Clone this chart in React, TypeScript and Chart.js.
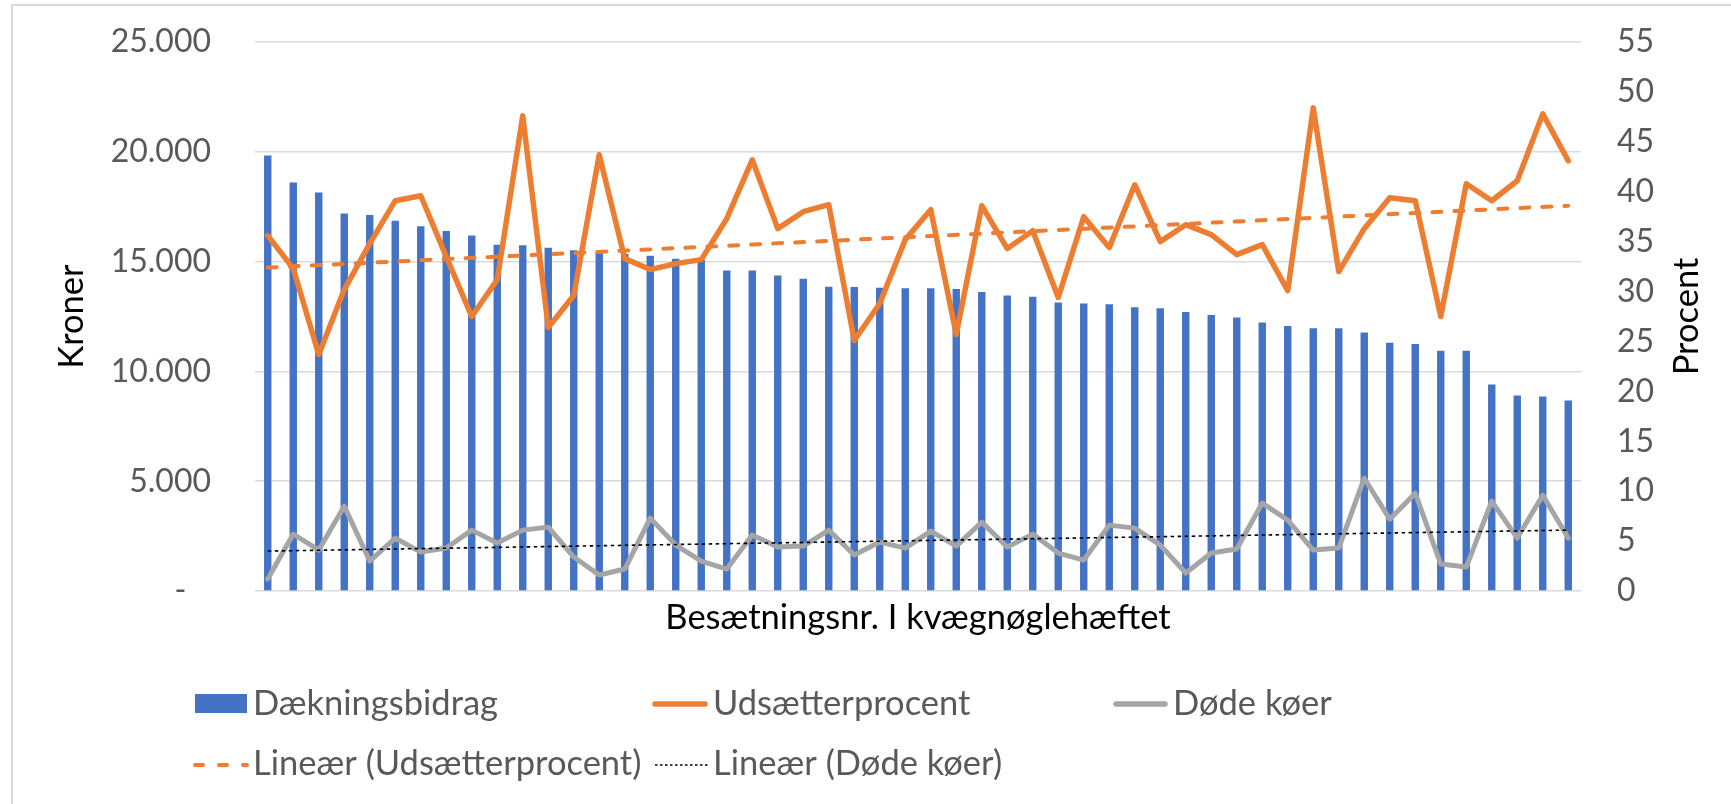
import React, { useEffect, useRef } from 'react';
import { Chart, registerables } from 'chart.js';

Chart.register(...registerables);

// ---------- Data ----------
const herdNumbers = [
  '1', '2', '3', '4', '5', '6', '7', '8', '9', '10',
  '11', '12', '13', '14', '15', '16', '17', '18', '19', '20',
  '21', '22', '23', '24', '25', '26', '27', '28', '29', '30',
  '31', '32', '33', '34', '35', '36', '37', '38', '39', '40',
  '41', '42', '43', '44', '45', '46', '47', '48', '49', '50',
  '51', '52',
];

// Dækningsbidrag (kroner, left axis)
const daekningsbidrag = [
  19830, 18600, 18150, 17190, 17120, 16860, 16610, 16390, 16190, 15770,
  15740, 15630, 15520, 15440, 15350, 15270, 15130, 15080, 14590, 14590,
  14370, 14220, 13860, 13840, 13810, 13790, 13790, 13750, 13620, 13460,
  13400, 13140, 13090, 13060, 12920, 12880, 12700, 12570, 12460, 12230,
  12070, 11970, 11960, 11770, 11300, 11250, 10940, 10940, 9400, 8900,
  8860, 8680,
];

// Udsætterprocent (procent, right axis)
const udsaetterprocent = [
  35.6, 32.3, 23.7, 30.2, 34.8, 39.1, 39.6, 33.5, 27.5, 31.2,
  47.6, 26.4, 29.6, 43.7, 33.3, 32.2, 32.8, 33.2, 37.3, 43.2,
  36.3, 38.0, 38.7, 25.1, 28.8, 35.2, 38.2, 25.7, 38.6, 34.3,
  36.1, 29.4, 37.5, 34.4, 40.7, 35.0, 36.7, 35.7, 33.7, 34.7,
  30.1, 48.4, 32.0, 36.3, 39.4, 39.1, 27.5, 40.8, 39.1, 41.1,
  47.8, 43.1,
];

// Døde køer (procent, right axis)
const doedeKoeer = [
  1.2, 5.7, 4.1, 8.5, 3.0, 5.3, 3.9, 4.3, 6.1, 4.8,
  6.1, 6.4, 3.4, 1.6, 2.2, 7.3, 4.6, 3.0, 2.2, 5.6,
  4.4, 4.5, 6.1, 3.6, 4.9, 4.3, 6.0, 4.5, 6.9, 4.4,
  5.7, 3.8, 3.1, 6.6, 6.3, 4.6, 1.8, 3.8, 4.2, 8.8,
  7.1, 4.1, 4.3, 11.3, 7.2, 9.8, 2.7, 2.4, 9.0, 5.3,
  9.6, 5.3,
];

// Linear trendlines: values at first and last herd
const udsaetterTrendEnds = [32.4, 38.6];
const doedeTrendEnds = [4.0, 6.1];

// Axis ranges / tick steps
const kronerRange = [0, 25000];
const kronerStep = 5000;
const procentRange = [0, 55];
const procentStep = 5;

const xTitle = 'Besætningsnr. I kvægnøglehæftet';
const leftTitle = 'Kroner';
const rightTitle = 'Procent';
const legendLabels = [
  'Dækningsbidrag',
  'Udsætterprocent',
  'Døde køer',
  'Lineær (Udsætterprocent)',
  'Lineær (Døde køer)',
];

// ---------- Styles ----------
const W = 1731;
const H = 804;
const FONT = 'Lato';
const BLUE = '#4472C4';
const ORANGE = '#ED7D31';
const GRAY = '#A5A5A5';
const TEXT_GRAY = '#595959';
const TICK_SIZE = 32;
const LEGEND_SIZE = 34.5;
const TITLE_SIZE = 34.5;

function formatKroner(v: number): string {
  if (v === 0) return '-   ';
  return String(v).replace(/\B(?=(\d{3})+(?!\d))/g, '.');
}

const overlayPlugin = {
  id: 'overlayTexts',
  afterDraw(chart: any) {
    const { ctx, chartArea } = chart;
    const cy = (chartArea.top + chartArea.bottom) / 2;
    const cx = (chartArea.left + chartArea.right) / 2;
    ctx.save();
    ctx.fillStyle = '#000';
    ctx.font = `${TITLE_SIZE}px ${FONT}`;
    ctx.textBaseline = 'alphabetic';
    ctx.textAlign = 'center';
    // axis titles
    ctx.save();
    ctx.translate(83, cy);
    ctx.rotate(-Math.PI / 2);
    ctx.fillText(leftTitle, 0, 0);
    ctx.restore();
    ctx.save();
    ctx.translate(1698, cy);
    ctx.rotate(-Math.PI / 2);
    ctx.fillText(rightTitle, 0, 0);
    ctx.restore();
    ctx.fillText(xTitle, cx, 629);

    // legend symbols
    ctx.fillStyle = BLUE;
    ctx.fillRect(195, 694, 52, 19);

    ctx.lineCap = 'round';
    ctx.lineWidth = 5.5;
    ctx.strokeStyle = ORANGE;
    ctx.beginPath();
    ctx.moveTo(655, 704);
    ctx.lineTo(705, 704);
    ctx.stroke();

    ctx.strokeStyle = GRAY;
    ctx.beginPath();
    ctx.moveTo(1116, 704);
    ctx.lineTo(1165, 704);
    ctx.stroke();

    ctx.strokeStyle = ORANGE;
    ctx.lineWidth = 4;
    ctx.setLineDash([8, 16]);
    ctx.beginPath();
    ctx.moveTo(195, 765);
    ctx.lineTo(247, 765);
    ctx.stroke();

    ctx.lineCap = 'butt';
    ctx.strokeStyle = '#000';
    ctx.lineWidth = 1.5;
    ctx.setLineDash([2.5, 2.5]);
    ctx.beginPath();
    ctx.moveTo(655, 765);
    ctx.lineTo(708, 765);
    ctx.stroke();
    ctx.setLineDash([]);

    // legend texts
    ctx.fillStyle = TEXT_GRAY;
    ctx.textAlign = 'left';
    ctx.font = `${LEGEND_SIZE}px ${FONT}`;
    ctx.fillText(legendLabels[0], 253, 715);
    ctx.fillText(legendLabels[1], 713, 715);
    ctx.fillText(legendLabels[2], 1173, 715);
    ctx.fillText(legendLabels[3], 253, 775);
    ctx.fillText(legendLabels[4], 713, 775);
    ctx.restore();
  },
};

function fixScale(width: number) {
  return (s: any) => {
    s.width = width;
    s.paddingTop = 10;
    s.paddingBottom = 10;
  };
}

export default function App() {
  const canvasRef = useRef<HTMLCanvasElement | null>(null);

  useEffect(() => {
    const canvas = canvasRef.current;
    if (!canvas) return;
    const last = herdNumbers.length - 1;
    const chart = new Chart(canvas, {
      type: 'bar',
      data: {
        labels: herdNumbers,
        datasets: [
          {
            type: 'line',
            label: legendLabels[3],
            data: [
              { x: herdNumbers[0], y: udsaetterTrendEnds[0] },
              { x: herdNumbers[last], y: udsaetterTrendEnds[1] },
            ],
            yAxisID: 'yR',
            borderColor: ORANGE,
            borderWidth: 4,
            borderDash: [9, 13],
            borderCapStyle: 'round',
            pointRadius: 0,
            order: 0,
          } as any,
          {
            type: 'line',
            label: legendLabels[4],
            data: [
              { x: herdNumbers[0], y: doedeTrendEnds[0] },
              { x: herdNumbers[last], y: doedeTrendEnds[1] },
            ],
            yAxisID: 'yR',
            borderColor: '#000',
            borderWidth: 1.6,
            borderDash: [3.5, 3.5],
            pointRadius: 0,
            order: 0,
          } as any,
          {
            type: 'line',
            label: legendLabels[1],
            data: udsaetterprocent,
            yAxisID: 'yR',
            borderColor: ORANGE,
            borderWidth: 5.5,
            borderJoinStyle: 'round',
            borderCapStyle: 'round',
            pointRadius: 0,
            tension: 0,
            order: 1,
          } as any,
          {
            type: 'line',
            label: legendLabels[2],
            data: doedeKoeer,
            yAxisID: 'yR',
            borderColor: GRAY,
            borderWidth: 5,
            borderJoinStyle: 'round',
            borderCapStyle: 'round',
            pointRadius: 0,
            tension: 0,
            order: 2,
          } as any,
          {
            type: 'bar',
            label: legendLabels[0],
            data: daekningsbidrag,
            yAxisID: 'yL',
            backgroundColor: BLUE,
            barPercentage: 0.29,
            categoryPercentage: 1,
            order: 5,
          } as any,
        ],
      },
      options: {
        responsive: false,
        animation: false,
        devicePixelRatio: 1,
        layout: { padding: { top: 42, bottom: 213, left: 0, right: 0 } },
        plugins: {
          legend: { display: false },
          tooltip: { enabled: false },
        },
        scales: {
          x: {
            type: 'category',
            offset: true,
            grid: { display: false, drawTicks: false },
            border: { display: false },
            ticks: { display: false },
          },
          yL: {
            position: 'left',
            min: kronerRange[0],
            max: kronerRange[1],
            ticks: {
              stepSize: kronerStep,
              padding: 44,
              color: TEXT_GRAY,
              font: { size: TICK_SIZE, family: FONT },
              callback: (v: any) => formatKroner(Number(v)),
            },
            grid: { color: '#D9D9D9', lineWidth: 1.5, drawTicks: false },
            border: { display: false },
            afterFit: fixScale(255),
          },
          yR: {
            position: 'right',
            min: procentRange[0],
            max: procentRange[1],
            ticks: {
              stepSize: procentStep,
              padding: 36,
              autoSkip: false,
              color: TEXT_GRAY,
              font: { size: TICK_SIZE, family: FONT },
            },
            grid: { display: false, drawTicks: false },
            border: { display: false },
            afterFit: fixScale(W - 1581),
          },
        },
      } as any,
      plugins: [overlayPlugin],
    });
    return () => chart.destroy();
  }, []);

  return (
    <div
      style={{
        position: 'absolute',
        left: 0,
        top: 0,
        width: W,
        height: H,
        overflow: 'hidden',
        background: '#fff',
      }}
    >
      <div
        style={{
          position: 'absolute',
          left: 11,
          top: 4,
          width: 1800,
          height: 900,
          border: '2px solid #D9D9D9',
          boxSizing: 'border-box',
        }}
      />
      <canvas
        ref={canvasRef}
        width={W}
        height={H}
        style={{ position: 'absolute', left: 0, top: 0, width: W, height: H }}
      />
    </div>
  );
}
